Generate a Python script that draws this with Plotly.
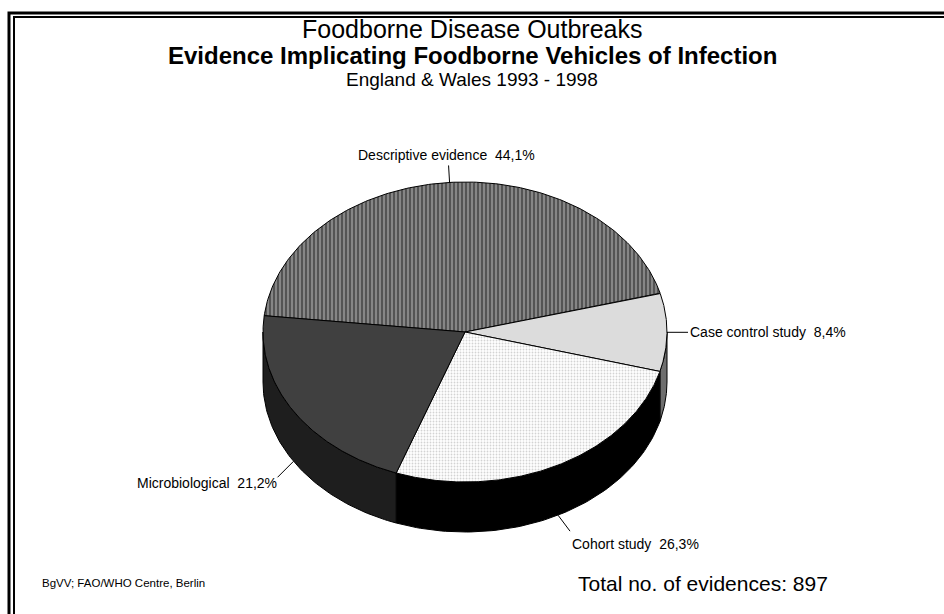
import numpy as np
import plotly.graph_objects as go

# ---------------- data ----------------
categories = ["Descriptive evidence", "Case control study", "Cohort study", "Microbiological"]
shares = [44.1, 8.4, 26.3, 21.2]          # percent
total_evidences = 897
title_main = "Foodborne Disease Outbreaks"
title_sub = "Evidence Implicating Foodborne Vehicles of Infection"
title_region = "England & Wales 1993 - 1998"
source_note = "BgVV; FAO/WHO Centre, Berlin"

# ---------------- style / geometry ----------------
W, H = 944, 614
CX, CY = 465, 332          # centre of top ellipse (pixel space)
RX, RY = 202, 150          # ellipse radii
DEPTH = 50                 # thickness of the 3D disc
START_DEG = 15.0 + shares[0] * 3.6   # first slice starts here, clockwise
FONT = "Liberation Sans, Arial, sans-serif"

top_style = [
    dict(fillcolor="#ffffff", fillpattern=dict(shape="|", fgcolor="#000000", bgcolor="#a8a8a8", size=4, solidity=0.7)),
    dict(fillcolor="#dcdcdc", fillpattern=None),
    dict(fillcolor="#ffffff", fillpattern=dict(shape=".", fgcolor="#a8a8a8", bgcolor="#ffffff", size=3, solidity=0.3)),
    dict(fillcolor="#404040", fillpattern=None),
]
side_colors = ["#1a1a1a", "#6e6e6e", "#000000", "#1e1e1e"]
# label placement: (line end dx, dy), text offset from line end, anchor
label_style = [
    dict(ldx=-1, ldy=-17, tdx=-2, tdy=-10, xanchor="center"),
    dict(ldx=21, ldy=0, tdx=0, tdy=0, xanchor="left"),
    dict(ldx=12, ldy=16, tdx=0, tdy=13, xanchor="left"),
    dict(ldx=-16, ldy=16, tdx=1, tdy=6, xanchor="right"),
]


def ell(t_deg, dy=0.0):
    t = np.radians(t_deg)
    return CX + RX * np.cos(t), CY - RY * np.sin(t) + dy


fig = go.Figure()

# slice boundaries (degrees, clockwise)
bounds = [START_DEG]
for s in shares:
    bounds.append(bounds[-1] - s * 3.6)

# ---- side walls (visible lower half) ----
for i in range(len(shares)):
    hi, lo = bounds[i], bounds[i + 1]
    for k in (-1, 0, 1):
        a = max(lo, -180 + 360 * k)
        b = min(hi, 0 + 360 * k)
        if b - a <= 0.01:
            continue
        ts = np.linspace(b, a, 80)
        xt, yt = ell(ts)
        xb, yb = ell(ts[::-1], DEPTH)
        xs = np.concatenate([xt, xb, xt[:1]])
        ys = np.concatenate([yt, yb, yt[:1]])
        fig.add_trace(go.Scatter(x=xs, y=ys, mode="lines", fill="toself",
                                 fillcolor=side_colors[i],
                                 line=dict(color="#000000", width=1),
                                 hoverinfo="skip", showlegend=False))

# ---- top faces ----
for i in range(len(shares)):
    hi, lo = bounds[i], bounds[i + 1]
    ts = np.linspace(hi, lo, 200)
    xa, ya = ell(ts)
    xs = np.concatenate([[CX], xa, [CX]])
    ys = np.concatenate([[CY], ya, [CY]])
    st = top_style[i]
    kw = dict(fillcolor=st["fillcolor"])
    if st["fillpattern"] is not None:
        kw["fillpattern"] = st["fillpattern"]
    fig.add_trace(go.Scatter(x=xs, y=ys, mode="lines", fill="toself",
                             line=dict(color="#000000", width=1),
                             hoverinfo="text", text=categories[i],
                             showlegend=False, **kw))

# ---- labels with leader lines ----
for i, (cat, s) in enumerate(zip(categories, shares)):
    mid = (bounds[i] + bounds[i + 1]) / 2
    dy = DEPTH if np.sin(np.radians(mid)) < -0.1 else 0
    tx, ty = ell(mid, dy)
    ls = label_style[i]
    ex, ey = tx + ls["ldx"], ty + ls["ldy"]
    fig.add_trace(go.Scatter(x=[tx, ex], y=[ty, ey], mode="lines",
                             line=dict(color="#000000", width=1),
                             hoverinfo="skip", showlegend=False))
    txt = f"{cat}  {s:.1f}%".replace(".", ",")
    fig.add_annotation(x=ex + ls["tdx"], y=ey + ls["tdy"], text=txt, showarrow=False,
                       xanchor=ls["xanchor"], yanchor="middle",
                       font=dict(family=FONT, size=14, color="#000000"))

# ---- titles and notes ----
fig.add_annotation(x=472, y=28.5, text=title_main, showarrow=False, xanchor="center", yanchor="middle",
                   font=dict(family=FONT, size=25, color="#000000"))
fig.add_annotation(x=472, y=55, text=f"<b>{title_sub}</b>", showarrow=False, xanchor="center", yanchor="middle",
                   font=dict(family=FONT, size=24, color="#000000"))
fig.add_annotation(x=472, y=79, text=title_region, showarrow=False, xanchor="center", yanchor="middle",
                   font=dict(family=FONT, size=19, color="#000000"))
fig.add_annotation(x=40, y=583, text=source_note, showarrow=False, xanchor="left", yanchor="middle",
                   font=dict(family=FONT, size=11.5, color="#000000"))
fig.add_annotation(x=576, y=583, text=f"Total no. of evidences: {total_evidences}", showarrow=False,
                   xanchor="left", yanchor="middle",
                   font=dict(family=FONT, size=21, color="#000000"))

# ---- double frame ----
fig.add_shape(type="rect", x0=9, y0=13, x1=W + 20, y1=H + 20, line=dict(color="#000000", width=3))
fig.add_shape(type="rect", x0=14, y0=17, x1=W + 20, y1=H + 20, line=dict(color="#000000", width=2))

fig.update_layout(
    width=W, height=H,
    margin=dict(l=0, r=0, t=0, b=0),
    paper_bgcolor="#ffffff", plot_bgcolor="#ffffff",
    xaxis=dict(range=[0, W], visible=False, fixedrange=True),
    yaxis=dict(range=[H, 0], visible=False, fixedrange=True),
    showlegend=False,
)

fig.write_html("out.html")
